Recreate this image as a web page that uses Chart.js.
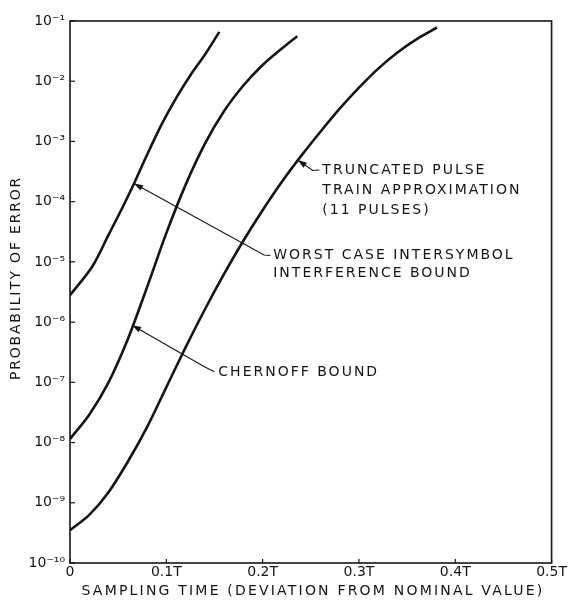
<!DOCTYPE html>
<html><head><meta charset="utf-8">
<script src="https://cdn.jsdelivr.net/npm/chart.js@4/dist/chart.umd.min.js"></script>
<style>html,body{margin:0;padding:0;background:#fff;}</style>
</head><body>
<canvas id="c" width="568" height="603"></canvas>
<script>
// ---- data ----
const worstX = [0, 0.023, 0.040, 0.055, 0.0665, 0.080, 0.095, 0.110, 0.125, 0.140, 0.155];
const worstP = [2.8e-6, 8.3e-6, 2.8e-5, 8.3e-5, 2.0e-4, 6.0e-4, 1.9e-3, 5.2e-3, 1.26e-2, 2.75e-2, 6.6e-2];

const chernX = [0, 0.020, 0.040, 0.060, 0.080, 0.100, 0.120, 0.140, 0.160, 0.180, 0.200, 0.220, 0.236];
const chernP = [1.15e-8, 2.9e-8, 1.0e-7, 5.2e-7, 3.8e-6, 3.0e-5, 1.9e-4, 9.1e-4, 3.2e-3, 8.5e-3, 1.86e-2, 3.5e-2, 5.6e-2];

const truncX = [0, 0.020, 0.040, 0.060, 0.080, 0.100, 0.120, 0.140, 0.160, 0.180, 0.200, 0.220, 0.240, 0.260, 0.280, 0.300, 0.320, 0.340, 0.360, 0.381];
const truncP = [3.5e-10, 6.3e-10, 1.5e-9, 4.8e-9, 1.8e-8, 8.3e-8, 3.8e-7, 1.62e-6, 6.3e-6, 2.24e-5, 7.2e-5, 2.14e-4, 5.75e-4, 1.45e-3, 3.5e-3, 7.8e-3, 1.62e-2, 3.0e-2, 5.0e-2, 7.8e-2];

const xTickValues = [0, 0.1, 0.2, 0.3, 0.4, 0.5];
const xTickLabels = ['0', '0.1T', '0.2T', '0.3T', '0.4T', '0.5T'];
const yTickValues = [1e-1, 1e-2, 1e-3, 1e-4, 1e-5, 1e-6, 1e-7, 1e-8, 1e-9, 1e-10];
const yTickLabels = ['10⁻¹', '10⁻²', '10⁻³', '10⁻⁴', '10⁻⁵', '10⁻⁶', '10⁻⁷', '10⁻⁸', '10⁻⁹', '10⁻¹⁰'];

const xTitle = 'SAMPLING TIME (DEVIATION FROM NOMINAL VALUE)';
const yTitle = 'PROBABILITY OF ERROR';

// annotation callouts (anchored in data coordinates)
const callouts = [
  { lines: ['TRUNCATED PULSE', 'TRAIN APPROXIMATION', '(11 PULSES)'],
    path: [[0.2365, 4.9e-4], [0.252, 3.3e-4], [0.259, 3.35e-4]], text: [0.262, 3.35e-4], gap: 20 },
  { lines: ['WORST CASE INTERSYMBOL', 'INTERFERENCE BOUND'],
    path: [[0.0665, 2.0e-4], [0.2015, 1.30e-5], [0.208, 1.28e-5]], text: [0.211, 1.28e-5], gap: 18 },
  { lines: ['CHERNOFF BOUND'],
    path: [[0.0645, 8.9e-7], [0.140, 1.80e-7], [0.150, 1.50e-7]], text: [0.154, 1.48e-7], gap: 18 }
];

const INK = '#151515';
const pts = (xs, ps) => xs.map((x, i) => ({ x: x, y: ps[i] }));
const lineDs = (label, xs, ps) => ({
  label, data: pts(xs, ps), showLine: true, borderColor: INK, borderWidth: 2.6,
  pointRadius: 0, tension: 0.3, fill: false
});

const decor = {
  id: 'decor',
  beforeDraw(chart) {
    const ctx = chart.ctx;
    ctx.save();
    ctx.fillStyle = '#fff';
    ctx.fillRect(0, 0, chart.width, chart.height);
    ctx.restore();
  },
  afterDraw(chart) {
    const ctx = chart.ctx, a = chart.chartArea, xs = chart.scales.x, ys = chart.scales.y;
    ctx.save();
    // frame
    ctx.strokeStyle = INK; ctx.lineWidth = 1.6;
    ctx.strokeRect(a.left, a.top, a.right - a.left, a.bottom - a.top);
    // inward ticks
    ctx.lineWidth = 1.2;
    yTickValues.forEach(v => {
      const py = ys.getPixelForValue(v);
      ctx.beginPath(); ctx.moveTo(a.left, py); ctx.lineTo(a.left + 5, py); ctx.stroke();
    });
    xTickValues.forEach(v => {
      const px = xs.getPixelForValue(v);
      ctx.beginPath(); ctx.moveTo(px, a.bottom); ctx.lineTo(px, a.bottom - 4); ctx.stroke();
    });
    // y title
    ctx.fillStyle = INK;
    ctx.font = '14px "DejaVu Sans"';
    ctx.letterSpacing = '1.8px';
    ctx.textAlign = 'center'; ctx.textBaseline = 'middle';
    ctx.save();
    ctx.translate(16, 278); ctx.rotate(-Math.PI / 2);
    ctx.fillText(yTitle, 0, 0);
    ctx.restore();
    // x title
    ctx.letterSpacing = '2.2px';
    ctx.fillText(xTitle, 313, 591);
    // callouts
    ctx.letterSpacing = '2px';
    ctx.font = '14px "DejaVu Sans"';
    ctx.textAlign = 'left';
    callouts.forEach(c => {
      const P = c.path.map(p => [xs.getPixelForValue(p[0]), ys.getPixelForValue(p[1])]);
      ctx.lineWidth = 1.1; ctx.strokeStyle = INK;
      ctx.beginPath(); ctx.moveTo(P[0][0], P[0][1]);
      for (let i = 1; i < P.length; i++) ctx.lineTo(P[i][0], P[i][1]);
      ctx.stroke();
      // arrow head at tip
      const dx = P[1][0] - P[0][0], dy = P[1][1] - P[0][1], L = Math.hypot(dx, dy);
      const ux = dx / L, uy = dy / L, nx = -uy, ny = ux;
      ctx.beginPath();
      ctx.moveTo(P[0][0], P[0][1]);
      ctx.lineTo(P[0][0] + ux * 9 + nx * 3, P[0][1] + uy * 9 + ny * 3);
      ctx.lineTo(P[0][0] + ux * 9 - nx * 3, P[0][1] + uy * 9 - ny * 3);
      ctx.closePath(); ctx.fillStyle = INK; ctx.fill();
      const tx = xs.getPixelForValue(c.text[0]), ty = ys.getPixelForValue(c.text[1]);
      c.lines.forEach((ln, i) => ctx.fillText(ln, tx, ty + i * c.gap));
    });
    ctx.restore();
  }
};

new Chart(document.getElementById('c'), {
  type: 'scatter',
  data: {
    datasets: [
      lineDs('Worst case intersymbol interference bound', worstX, worstP),
      lineDs('Chernoff bound', chernX, chernP),
      lineDs('Truncated pulse train approximation (11 pulses)', truncX, truncP)
    ]
  },
  options: {
    responsive: false, animation: false, devicePixelRatio: 1,
    layout: { padding: { top: 21, right: 16, left: 0, bottom: 0 } },
    plugins: { legend: { display: false }, tooltip: { enabled: false } },
    scales: {
      x: {
        type: 'linear', min: 0, max: 0.5,
        afterBuildTicks: s => { s.ticks = xTickValues.map(v => ({ value: v })); },
        afterFit: s => { s.height = 40; },
        ticks: { color: INK, font: { family: 'DejaVu Sans', size: 14 }, padding: 1, maxRotation: 0,
                 callback: (v, i) => xTickLabels[i] },
        grid: { display: false, drawTicks: false },
        border: { display: false }
      },
      y: {
        type: 'logarithmic', min: 1e-10, max: 1e-1,
        afterBuildTicks: s => { s.ticks = yTickValues.map(v => ({ value: v })); },
        afterFit: s => { s.width = 70; },
        ticks: { color: INK, font: { family: 'DejaVu Sans', size: 14 }, padding: 5,
                 callback: (v, i) => yTickLabels[i] },
        grid: { display: false, drawTicks: false },
        border: { display: false }
      }
    }
  },
  plugins: [decor]
});
</script>
</body></html>
